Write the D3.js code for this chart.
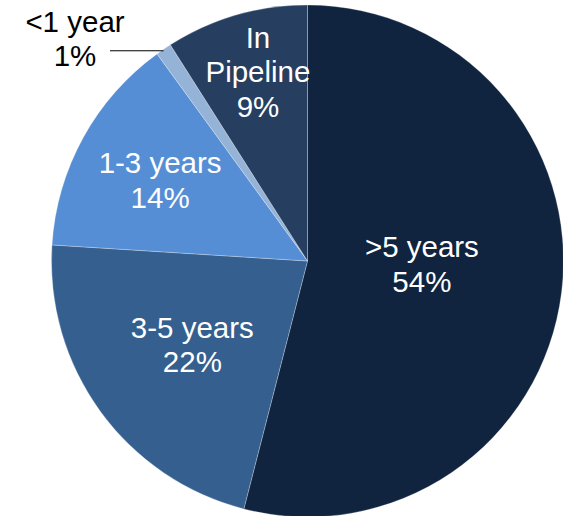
<!DOCTYPE html>
<html>
<head>
<meta charset="utf-8">
<script src="https://cdn.jsdelivr.net/npm/d3@7"></script>
<style>
  html, body { margin: 0; padding: 0; background: #ffffff; }
  svg { display: block; }
  text { font-family: "Liberation Sans", Arial, sans-serif; }
</style>
</head>
<body>
<svg id="chart" width="563" height="516"></svg>
<script>
// ---- data ----
const categories = [">5 years", "3-5 years", "1-3 years", "<1 year", "In Pipeline"];
const values = [54, 22, 14, 1, 9];
const valueLabels = ["54%", "22%", "14%", "1%", "9%"];
const labelLines = [[">5 years"], ["3-5 years"], ["1-3 years"], ["<1 year"], ["In", "Pipeline"]];
const colors = ["#11243F", "#345F8E", "#558ED5", "#95B3D7", "#263F61"];

// ---- layout ----
const W = 563, H = 516;
const cx = 307.5, cy = 261, R = 256;
const fontSize = 29.5, lineH = 34.5;
// per slice: [radius fraction, angle nudge (deg)], null = outside label
const labelLayout = [[0.447, -5.7], [0.556, 0], [0.657, 0], null, [0.763, 1.5]];

const svg = d3.select("#chart");
const g = svg.append("g").attr("transform", `translate(${cx},${cy})`);

const pie = d3.pie().sort(null).value(d => d)(values);
const arc = d3.arc().innerRadius(0).outerRadius(R);

g.selectAll("path.slice")
  .data(pie)
  .join("path")
  .attr("class", "slice")
  .attr("d", arc)
  .attr("fill", (d, i) => colors[i])
  .attr("stroke", "#ffffff")
  .attr("stroke-opacity", 0.45)
  .attr("stroke-width", 0.6);

function polar(r, a) { return [r * Math.sin(a), -r * Math.cos(a)]; }

pie.forEach((d, i) => {
  const lines = labelLines[i].concat([valueLabels[i]]);
  const mid = (d.startAngle + d.endAngle) / 2;
  const lay = labelLayout[i];
  if (lay) {
    const [x, y] = polar(R * lay[0], mid + lay[1] * Math.PI / 180);
    const t = g.append("text")
      .attr("text-anchor", "middle")
      .attr("fill", "#ffffff")
      .attr("font-size", fontSize);
    const n = lines.length;
    lines.forEach((s, k) => {
      t.append("tspan")
        .attr("x", x)
        .attr("y", y + (k - (n - 1) / 2) * lineH)
        .attr("dy", "0.35em")
        .text(s);
    });
  } else {
    // outside label with leader line
    const [px, py] = polar(R, mid);
    const lineEndX = 110 - cx;
    g.append("line")
      .attr("x1", px).attr("y1", py + 1.5)
      .attr("x2", lineEndX).attr("y2", py + 1.5)
      .attr("stroke", "#000000")
      .attr("stroke-width", 1);
    const tx = 75 - cx;
    const ty = py + 1.5 - 12;
    const t = g.append("text")
      .attr("text-anchor", "middle")
      .attr("fill", "#000000")
      .attr("font-size", fontSize);
    const n = lines.length;
    lines.forEach((s, k) => {
      t.append("tspan")
        .attr("x", tx)
        .attr("y", ty + (k - (n - 1) / 2) * lineH)
        .attr("dy", "0.35em")
        .text(s);
    });
  }
});
</script>
</body>
</html>
